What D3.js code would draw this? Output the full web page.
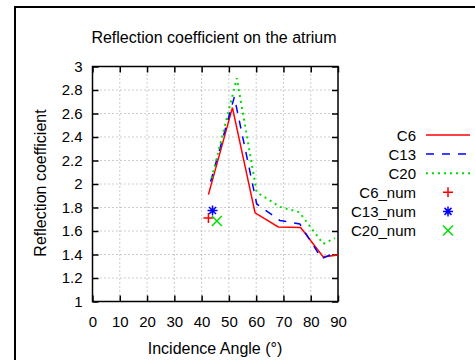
<!DOCTYPE html>
<html>
<head>
<meta charset="utf-8">
<script src="https://cdn.jsdelivr.net/npm/d3@7"></script>
<style>
  body { margin: 0; background: #fff; }
  text { font-family: "Liberation Sans", Arial, sans-serif; fill: #000; }
</style>
</head>
<body>
<svg id="chart"></svg>
<script>
// data
const angleC6 = [42.5, 51.3, 59.6, 68.1, 76.3, 84.6, 90];
const valC6 = [1.91, 2.65, 1.755, 1.635, 1.63, 1.38, 1.395];
const angleC13 = [43.3, 52, 60.2, 68.7, 76, 84, 89.5];
const valC13 = [2.02, 2.74, 1.83, 1.69, 1.66, 1.365, 1.42];
const angleC20 = [43.7, 52.9, 60.2, 68.8, 75.8, 84.6, 88.9];
const valC20 = [2.05, 2.9, 1.93, 1.805, 1.76, 1.49, 1.54];
const numAngle = [42.5, 44, 45.6];
const numVal = [1.71, 1.775, 1.685];
const xTicks = [0, 10, 20, 30, 40, 50, 60, 70, 80, 90];
const yTicks = [1, 1.2, 1.4, 1.6, 1.8, 2, 2.2, 2.4, 2.6, 2.8, 3];

const W = 475, H = 360;
const margin = {top: 66.5, right: 137, bottom: 58.5, left: 92.5},
  width = W - margin.left - margin.right,
  height = H - margin.top - margin.bottom;

const svg = d3.select("#chart").attr("width", W).attr("height", H);

// outer frame
svg.append("rect")
  .attr("x", 15).attr("y", 7)
  .attr("width", 470).attr("height", 370)
  .attr("fill", "none").attr("stroke", "#000").attr("stroke-width", 2);

const g = svg.append("g")
  .attr("transform", `translate(${margin.left},${margin.top})`);

const x = d3.scaleLinear().domain([0, 90]).range([0, width]);
const y = d3.scaleLinear().domain([1, 3]).range([height, 0]);

// grid
g.append("g").selectAll("line")
  .data(xTicks.slice(1, -1))
  .join("line")
    .attr("x1", d => x(d)).attr("x2", d => x(d))
    .attr("y1", 0).attr("y2", height)
    .attr("stroke", "#999").attr("stroke-dasharray", "1,3");
g.append("g").selectAll("line")
  .data(yTicks.slice(1, -1))
  .join("line")
    .attr("x1", 0).attr("x2", width)
    .attr("y1", d => y(d)).attr("y2", d => y(d))
    .attr("stroke", "#999").attr("stroke-dasharray", "1,3");

// axes (ticks inward on all four sides)
const fmt = d => d3.format("")(+d.toFixed(1));
g.append("g")
  .attr("transform", `translate(0,${height})`)
  .call(d3.axisBottom(x).tickValues(xTicks).tickSize(-6).tickPadding(15).tickFormat(fmt))
  .call(a => a.select(".domain").remove());
g.append("g")
  .call(d3.axisTop(x).tickValues(xTicks).tickSize(-6).tickFormat(""))
  .call(a => a.select(".domain").remove());
g.append("g")
  .call(d3.axisLeft(y).tickValues(yTicks).tickSize(-6).tickPadding(10).tickFormat(fmt))
  .call(a => a.select(".domain").remove());
g.append("g")
  .attr("transform", `translate(${width},0)`)
  .call(d3.axisRight(y).tickValues(yTicks).tickSize(-6).tickFormat(""))
  .call(a => a.select(".domain").remove());
g.selectAll(".tick line").attr("stroke", "#000").attr("stroke-width", 1.5);
g.selectAll(".tick text").attr("font-size", 15).attr("font-family", "Liberation Sans, Arial, sans-serif");

g.append("rect")
  .attr("width", width).attr("height", height)
  .attr("fill", "none").attr("stroke", "#000").attr("stroke-width", 1.5);

// series
const series = [
  {name: "C6", ax: angleC6, v: valC6, color: "#ff0000", dash: null, w: 1.5},
  {name: "C13", ax: angleC13, v: valC13, color: "#0000ff", dash: "8,8", w: 1.5},
  {name: "C20", ax: angleC20, v: valC20, color: "#00dd00", dash: "2,4", w: 2}
];
const line = d3.line().x(d => x(d[0])).y(d => y(d[1]));
const plot = g.append("g");
series.forEach(s => {
  plot.append("path")
    .datum(s.ax.map((a, i) => [a, s.v[i]]))
    .attr("d", line)
    .attr("fill", "none")
    .attr("stroke", s.color)
    .attr("stroke-width", s.w)
    .attr("stroke-dasharray", s.dash);
});

// point markers: plus, star, cross
function marker(sel, kind, color) {
  const r = 5;
  if (kind === 0) {
    sel.append("path").attr("d", `M${-r},0H${r}M0,${-r}V${r}`);
  } else if (kind === 1) {
    sel.append("path").attr("d",
      `M${-r},0H${r}M0,${-r}V${r}M${-r*0.7},${-r*0.7}L${r*0.7},${r*0.7}M${-r*0.7},${r*0.7}L${r*0.7},${-r*0.7}`);
  } else {
    sel.append("path").attr("d", `M${-r},${-r}L${r},${r}M${-r},${r}L${r},${-r}`);
  }
  sel.selectAll("path").attr("stroke", color).attr("stroke-width", 1.5).attr("fill", "none");
}
numAngle.forEach((a, i) => {
  const m = plot.append("g").attr("transform", `translate(${x(a)},${y(numVal[i])})`);
  marker(m, i, series[i].color);
});

// title and axis labels
svg.append("text")
  .attr("x", 214).attr("y", 43)
  .attr("text-anchor", "middle").attr("font-size", 16)
  .text("Reflection coefficient on the atrium");
svg.append("text")
  .attr("x", 215).attr("y", 354)
  .attr("text-anchor", "middle").attr("font-size", 16)
  .text("Incidence Angle (°)");
svg.append("text")
  .attr("transform", "translate(46,183) rotate(-90)")
  .attr("text-anchor", "middle").attr("font-size", 16)
  .text("Reflection coefficient");

// legend
const legend = svg.append("g");
const labels = ["C6", "C13", "C20", "C6_num", "C13_num", "C20_num"];
labels.forEach((lab, i) => {
  const ly = 135 + i * 19.1;
  legend.append("text")
    .attr("x", 416).attr("y", ly + 5.5)
    .attr("text-anchor", "end").attr("font-size", 15)
    .text(lab);
  if (i < 3) {
    const s = series[i];
    legend.append("line")
      .attr("x1", 426).attr("x2", 470)
      .attr("y1", ly).attr("y2", ly)
      .attr("stroke", s.color).attr("stroke-width", s.w)
      .attr("stroke-dasharray", s.dash);
  } else {
    const m = legend.append("g").attr("transform", `translate(448,${ly})`);
    marker(m, i - 3, series[i - 3].color);
  }
});
</script>
</body>
</html>
